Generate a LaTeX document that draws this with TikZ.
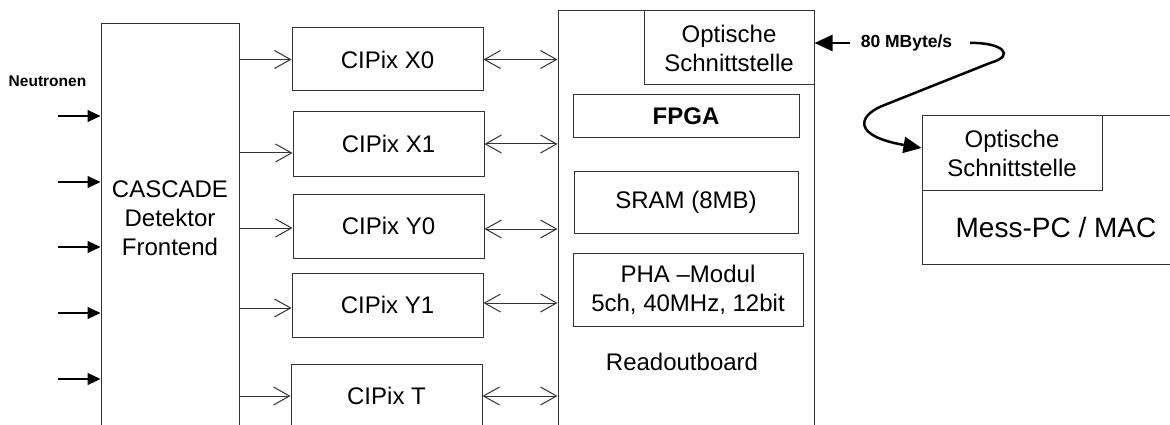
\documentclass[tikz,border=0pt]{standalone}
\usepackage{fontspec}
\setmainfont{Liberation Sans}
\usetikzlibrary{arrows.meta}
\begin{document}
\begin{tikzpicture}[x=1pt,y=-1pt,
  box/.style={draw=black!80, line width=1pt, rectangle, inner sep=0pt, font=\fontsize{24}{29}\selectfont, align=center},
  lbl/.style={inner sep=0pt, font=\fontsize{24}{29}\selectfont, align=center},
  openarr/.style={draw=black!80, line width=1pt, -{Straight Barb[length=16pt,width=18pt]}},
  dblarr/.style={draw=black!80, line width=1pt, {Straight Barb[length=16pt,width=18pt]}-{Straight Barb[length=16pt,width=18pt]}},
  neut/.style={draw=black, line width=1.2pt, -{Triangle[length=13pt,width=12pt]}},
  thickarr/.style={draw=black, line width=2.5pt, -{Triangle[length=18pt,width=16pt]}},
  smalllbl/.style={inner sep=0pt, font=\bfseries\fontsize{15.5}{18}\selectfont}
]
\path[use as bounding box] (0,0) rectangle (1170,425);
\clip (0,0) rectangle (1170,425);

% CASCADE frontend
\node[box, minimum width=138pt, minimum height=436pt] (cas) at (170,242) {};
\node[lbl] (castext) at (170,218) {CASCADE\\Detektor\\Frontend};

% Neutron inputs
\node[smalllbl] (neutr) at (47.5,81) {Neutronen};
\foreach \i/\yy in {1/116,2/182,3/247,4/313,5/379}{
  \coordinate (n\i) at (58,\yy);
  \draw[neut] (n\i) -- (n\i -| cas.west);
}

% CIPix boxes
\node[box, minimum width=191pt, minimum height=63pt] (x0) at (387.5,59.5) {CIPix X0};
\node[box, minimum width=191pt, minimum height=64pt] (x1) at (388.5,144) {CIPix X1};
\node[box, minimum width=191pt, minimum height=64pt] (y0) at (388.5,226) {CIPix Y0};
\node[box, minimum width=191pt, minimum height=64pt] (y1) at (387.5,305) {CIPix Y1};
\node[box, minimum width=191pt, minimum height=64pt] (t) at (386.5,396) {CIPix T};

% Readoutboard
\node[box, minimum width=256pt, minimum height=449pt] (rb) at (686,235.5) {};
\node[box, minimum width=170pt, minimum height=74pt] (opt1) at (729,48) {Optische\\Schnittstelle};
\node[box, minimum width=226pt, minimum height=43pt, font=\bfseries\fontsize{24}{29}\selectfont] (fpga) at (686,116.5) {FPGA};
\node[box, minimum width=224pt, minimum height=62pt] (sram) at (686,202) {SRAM (8MB)};
\node[box, minimum width=230pt, minimum height=73pt] (pha) at (688,289.5) {PHA –Modul\\5ch, 40MHz, 12bit};
\node[lbl] (rbtext) at (682,362) {Readoutboard};

% Frontend -> CIPix
\draw[openarr] (x0.west -| cas.east) -- (x0.west);
\draw[openarr] ([yshift=-9pt]x1.west -| cas.east) -- ([yshift=-9pt]x1.west);
\draw[openarr] ([yshift=-2pt]y0.west -| cas.east) -- ([yshift=-2pt]y0.west);
\draw[openarr] ([yshift=-3pt]y1.west -| cas.east) -- ([yshift=-3pt]y1.west);
\draw[openarr] (t.west -| cas.east) -- (t.west);

% CIPix <-> Readoutboard
\draw[dblarr] (x0.east) -- (x0.east -| rb.west);
\draw[dblarr] (x1.east) -- (x1.east -| rb.west);
\draw[dblarr] ([yshift=-3pt]y0.east) -- ([yshift=-3pt]y0.east -| rb.west);
\draw[dblarr] ([yshift=2pt]y1.east) -- ([yshift=2pt]y1.east -| rb.west);
\draw[dblarr] (t.east) -- (t.east -| rb.west);

% Mess-PC
\node[box, minimum width=300pt, minimum height=148pt] (pc) at (1072,190) {};
\node[box, minimum width=180pt, minimum height=74pt] (opt2) at (1012,153) {Optische\\Schnittstelle};
\node[lbl, font=\fontsize{28}{32}\selectfont] (pctext) at (1056,227) {Mess-PC / MAC};

% optical link
\coordinate (ls) at (850,43);
\draw[thickarr] (ls) -- (ls -| rb.east);
\node[smalllbl, font=\bfseries\fontsize{17.5}{20}\selectfont] (rate) at (906.5,43) {80 MByte/s};
\coordinate (cs) at (970,43);
\draw[thickarr] (cs) .. controls (1000,42) and (1018,55) .. (990,63) -- (882,106)
  .. controls (858,116) and (852,136) .. ([yshift=5pt]opt2.west);
\end{tikzpicture}
\end{document}
